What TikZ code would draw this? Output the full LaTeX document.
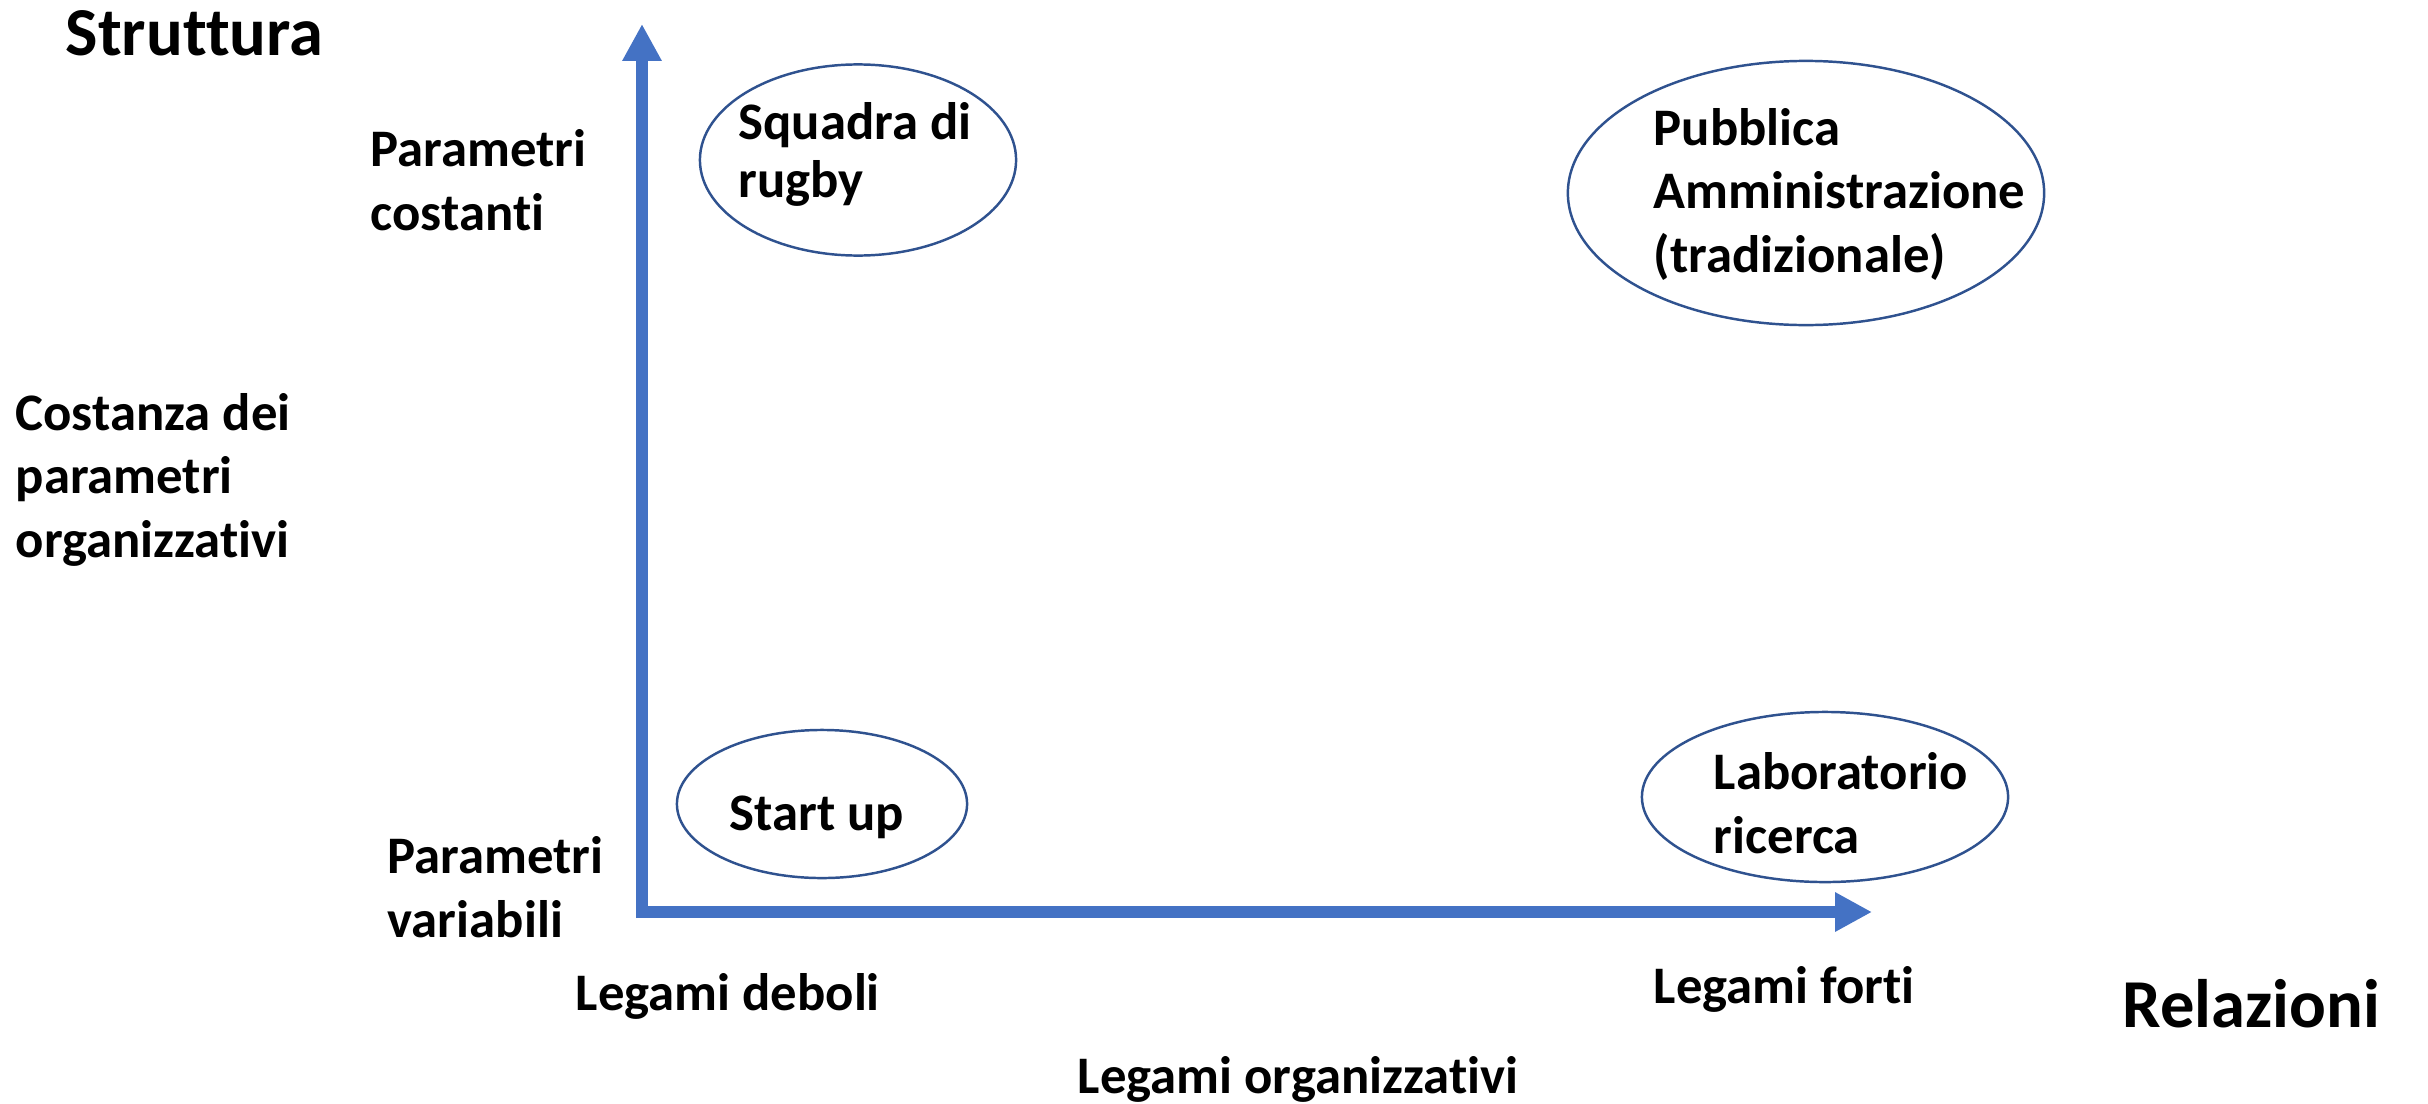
\documentclass[tikz,border=0pt]{standalone}
\usepackage{fontspec}
\setmainfont{Carlito}[Ligatures=NoCommon]
\usetikzlibrary{arrows.meta, shapes.geometric}

\definecolor{axisblue}{HTML}{4472C4}
\definecolor{ringblue}{HTML}{2F528F}

\begin{document}
\begin{tikzpicture}[x=0.01cm, y=-0.01cm,
    axis/.style={line width=3.4pt, draw=axisblue, -{Triangle[length=10.5pt, width=10.5pt]}},
    bubble/.style={draw=ringblue, line width=0.7pt, ellipse, inner sep=0pt},
    txt/.style={anchor=base west, inner sep=0pt, align=left, font=\fontsize{15}{18}\selectfont\bfseries},
    title/.style={anchor=base west, inner sep=0pt, font=\fontsize{19.5}{23}\selectfont\bfseries}]
    \useasboundingbox (0,0) rectangle (2428,1103);

    \coordinate (origin) at (642,918);
    \coordinate (ytip) at (642,24);
    \coordinate (xstart) at (648,912);
    \coordinate (xtip) at (1872,912);
    \draw[axis] (origin) -- (ytip);
    \draw[axis] (xstart) -- (xtip);

    \node[bubble, minimum width=3.16cm, minimum height=1.91cm] (rugby) at (858,160) {};
    \node[bubble, minimum width=4.76cm, minimum height=2.64cm] (pa) at (1806,193) {};
    \node[bubble, minimum width=2.90cm, minimum height=1.48cm] (startup) at (822,804) {};
    \node[bubble, minimum width=3.66cm, minimum height=1.70cm] (lab) at (1825,797) {};

    \node[txt, font=\fontsize{15}{16.3}\selectfont\bfseries] (rugby text) at (738,197) {Squadra di\\rugby};
    \node[txt] (pa text) at (1653,272) {Pubblica\\Amministrazione\\(tradizionale)};
    \node[txt] (startup text) at (729,830) {Start up};
    \node[txt] (lab text) at (1713,853) {Laboratorio\\ricerca};

    \node[title] (struttura) at (65,55) {Struttura};
    \node[title] (relazioni) at (2122,1027) {Relazioni};
    \node[txt] (costanti) at (370,230) {Parametri\\costanti};
    \node[txt] (costanza) at (15,557) {Costanza dei\\parametri\\organizzativi};
    \node[txt] (variabili) at (387,937) {Parametri\\variabili};
    \node[txt] (deboli) at (575,1010) {Legami deboli};
    \node[txt] (forti) at (1653,1003) {Legami forti};
    \node[txt] (legami) at (1077,1093) {Legami organizzativi};
\end{tikzpicture}
\end{document}
